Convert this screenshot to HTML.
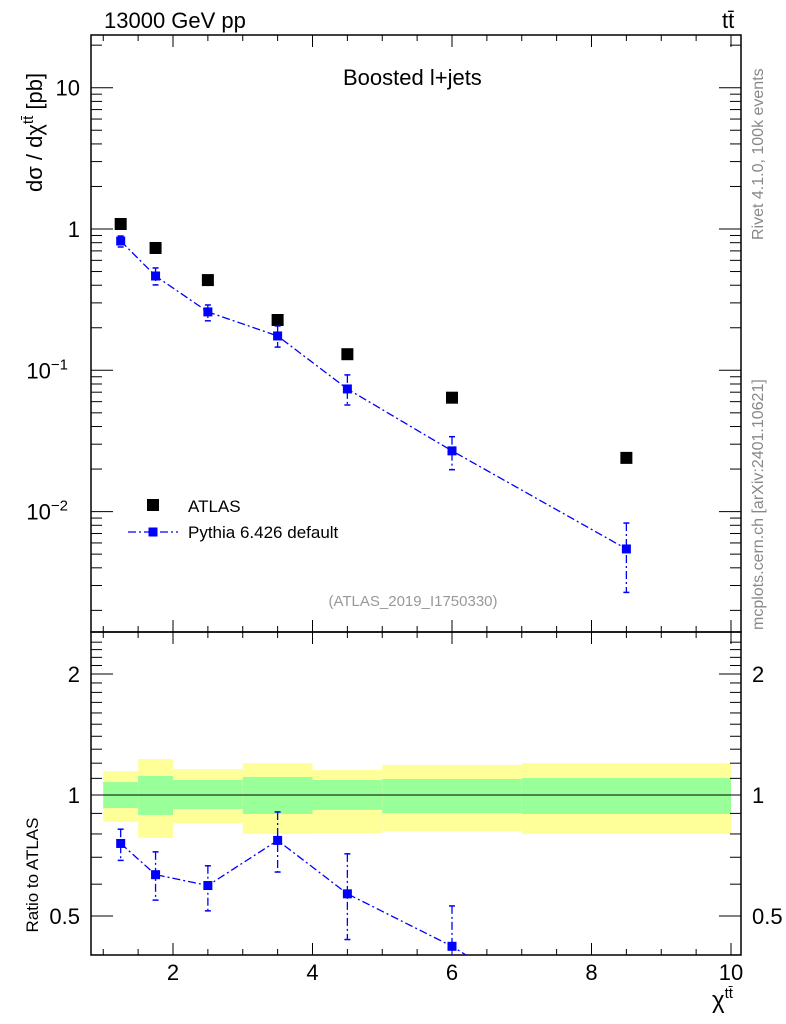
<!DOCTYPE html>
<html><head><meta charset="utf-8"><style>
html,body{margin:0;padding:0;background:#fff;width:786px;height:1024px;overflow:hidden}
svg{display:block;font-family:"Liberation Sans",sans-serif;overflow:hidden}
</style></head><body>
<svg id="c" width="786" height="1024" viewBox="0 0 786 1024" xmlns="http://www.w3.org/2000/svg"></svg>
<script>
const xs=[1.25,1.75,2.5,3.5,4.5,6,8.5];
const atlas=[1.085,0.734,0.435,0.227,0.13,0.064,0.024];
const pythia=[0.822,0.465,0.259,0.175,0.0738,0.0269,0.00544];
const pyUp=[0.892,0.530,0.290,0.206,0.0928,0.0339,0.0083];
const pyDn=[0.746,0.402,0.224,0.146,0.0568,0.0198,0.00268];
const binEdges=[1,1.5,2,3,4,5,7,10];
const yelUp=[1.147,1.229,1.16,1.201,1.154,1.188,1.201];
const yelDn=[0.857,0.782,0.851,0.8,0.804,0.813,0.8];
const grnUp=[1.077,1.115,1.09,1.109,1.09,1.096,1.102];
const grnDn=[0.928,0.892,0.923,0.897,0.918,0.902,0.897];
const xTicks=[2,4,6,8,10];
const svg=document.getElementById('c');const NS='http://www.w3.org/2000/svg';
function el(t,a,p){const e=document.createElementNS(NS,t);for(const k in a)e.setAttribute(k,a[k]);(p||svg).appendChild(e);return e;}
const L=91,R=741,T=35,M=632,B=955;
const X=v=>173+(v-2)*69.75;
const Y=v=>229-Math.log10(v)*141.3;
const YR=v=>795-Math.log2(v)*121;
const cl=y=>Math.max(M,Math.min(B,y));
for(let i=0;i<binEdges.length-1;i++){
 const x1=X(binEdges[i]),x2=X(binEdges[i+1]);
 let r=el('rect',{x:x1,y:YR(yelUp[i]),width:x2-x1,height:YR(yelDn[i])-YR(yelUp[i]),fill:'#ffff99'});
 
 r=el('rect',{x:x1,y:YR(grnUp[i]),width:x2-x1,height:YR(grnDn[i])-YR(grnUp[i]),fill:'#99ff99'});
 
}
el('line',{x1:X(1),x2:X(10),y1:YR(1),y2:YR(1),stroke:'#000','stroke-width':1});
el('rect',{x:L,y:T,width:R-L,height:M-T,fill:'none',stroke:'#000','stroke-width':1.5});
el('rect',{x:L,y:M,width:R-L,height:B-M,fill:'none',stroke:'#000','stroke-width':1.5});
for(let v=1;v<=10.01;v+=0.5){const maj=Math.abs(v-Math.round(v/2)*2)<1e-6;const len=maj?12:6;
 for(const [y0,d] of [[T,1],[M,-1],[M,1],[B,-1]]){el('line',{x1:X(v),x2:X(v),y1:y0,y2:y0+d*len,stroke:'#000'});}}
xTicks.forEach(v=>{const t=el('text',{x:X(v),y:980,'font-size':22,'text-anchor':'middle'});t.textContent=v;
 });
for(let e=-3;e<=1;e++)for(let m=1;m<10;m++){const v=m*Math.pow(10,e);const y=Y(v);if(y<T||y>M)continue;const len=m==1?22:11;
 el('line',{x1:L,x2:L+len,y1:y,y2:y,stroke:'#000'});el('line',{x1:R,x2:R-len,y1:y,y2:y,stroke:'#000'});}
[[10,'10'],[1,'1']].forEach(([v,s])=>{const t=el('text',{x:80,y:Y(v)+8,'font-size':22,'text-anchor':'end'});t.textContent=s;});
[[0.1,'−1'],[0.01,'−2']].forEach(([v,s])=>{const t=el('text',{x:68,y:Y(v)+8,'font-size':22,'text-anchor':'end'});t.textContent='10';
 const ts=el('tspan',{dy:-9,'font-size':15},t);ts.textContent=s;});
for(let v=0.4;v<=2.5;v+=0.1){const y=YR(v);if(y<M||y>B)continue;const maj=[0.5,1,2].some(q=>Math.abs(q-v)<1e-6);const len=maj?22:11;
 el('line',{x1:L,x2:L+len,y1:y,y2:y,stroke:'#000'});el('line',{x1:R,x2:R-len,y1:y,y2:y,stroke:'#000'});}
[[2,'2'],[1,'1'],[0.5,'0.5']].forEach(([v,s])=>{let t=el('text',{x:80,y:YR(v)+8,'font-size':22,'text-anchor':'end'});t.textContent=s;
 t=el('text',{x:752,y:YR(v)+8,'font-size':22});t.textContent=s;});
xs.forEach((x,i)=>{const r=el('rect',{x:X(x)-6,y:Y(atlas[i])-6,width:12,height:12,fill:'#000'});});
function series(yf,vals,up,dn,clipB){
 let pts=xs.map((x,i)=>X(x)+','+yf(vals[i])).join(' ');
 el('polyline',{points:pts,fill:'none',stroke:'#0000ff','stroke-width':1.3,'stroke-dasharray':'8,3,2,3'});
 xs.forEach((x,i)=>{const yc=yf(vals[i]);let y1=yf(up[i]),y2=Math.min(yf(dn[i]),clipB);if(y1>clipB)return;
  el('line',{x1:X(x),x2:X(x),y1:y1,y2:y2,stroke:'#0000ff','stroke-width':1.3,'stroke-dasharray':'8,3,2,3'});
  el('line',{x1:X(x)-3,x2:X(x)+3,y1:y1,y2:y1,stroke:'#0000ff','stroke-width':1.5});
  if(y2<clipB)el('line',{x1:X(x)-3,x2:X(x)+3,y1:y2,y2:y2,stroke:'#0000ff','stroke-width':1.5});
  if(yc<clipB){const r=el('rect',{x:X(x)-4.5,y:yc-4.5,width:9,height:9,fill:'#0000ff'});}
 });
}
series(Y,pythia,pyUp,pyDn,M);
const cp=el('clipPath',{id:'rc'});el('rect',{x:L,y:M,width:R-L,height:B-M},cp);
const g=el('g',{'clip-path':'url(#rc)'});
const ratio=pythia.map((v,i)=>v/atlas[i]),rU=pyUp.map((v,i)=>v/atlas[i]),rD=pyDn.map((v,i)=>v/atlas[i]);
(function(){
 // polyline: find segment into out-of-range region and clip geometrically
 const P=xs.map((x,i)=>[X(x),YR(ratio[i])]);
 const pts=[];
 for(let i=0;i<P.length;i++){
  if(P[i][1]<=B){pts.push(P[i]);}
  else{ if(i>0&&P[i-1][1]<=B){const [xa,ya]=P[i-1],[xb,yb]=P[i];const t=(B-ya)/(yb-ya);pts.push([xa+t*(xb-xa),B]);} break; }
 }
 el('polyline',{points:pts.map(p=>p.join(',')).join(' '),fill:'none',stroke:'#0000ff','stroke-width':1.3,'stroke-dasharray':'8,3,2,3'},g);
 xs.forEach((x,i)=>{const y1r=YR(rU[i]),y2r=YR(rD[i]),yc=YR(ratio[i]);
  if(y1r>B)return;
  const y1=cl(y1r),y2=cl(y2r);
  el('line',{x1:X(x),x2:X(x),y1:y1,y2:y2,stroke:'#0000ff','stroke-width':1.3,'stroke-dasharray':'8,3,2,3'},g);
  el('line',{x1:X(x)-3,x2:X(x)+3,y1:y1,y2:y1,stroke:'#0000ff','stroke-width':1.5},g);
  if(y2r<B)el('line',{x1:X(x)-3,x2:X(x)+3,y1:y2,y2:y2,stroke:'#0000ff','stroke-width':1.5},g);
  if(yc<B){const r=el('rect',{x:X(x)-4.5,y:yc-4.5,width:9,height:Math.min(9,B-(yc-4.5)),fill:'#0000ff'},g);}});})();
function txt(s,a,name){const t=el('text',a);t.textContent=s;return t;}
txt('13000 GeV pp',{x:104,y:28,'font-size':22},'energy-label');
txt('tt̄',{x:722,y:28,'font-size':22},'process-label');
txt('Boosted l+jets',{x:343,y:85,'font-size':22},'plot-title');
txt('(ATLAS_2019_I1750330)',{x:413,y:606,'font-size':15,fill:'#999','text-anchor':'middle'},'analysis-id');
let yt=txt('dσ / dχ',{x:0,y:0,'font-size':22,transform:'translate(42,192) rotate(-90)'},'y-axis-title');
let s=el('tspan',{dy:-9,'font-size':15},yt);s.textContent='tt̄';s=el('tspan',{dy:9},yt);s.textContent=' [pb]';
txt('Ratio to ATLAS',{x:0,y:0,'font-size':17,transform:'translate(38,875) rotate(-90)','text-anchor':'middle'},'ratio-axis-title');
let xt=txt('χ',{x:712,y:1008,'font-size':24},'x-axis-title');s=el('tspan',{dy:-10,'font-size':15},xt);s.textContent='tt̄';
txt('Rivet 4.1.0,  100k events',{x:0,y:0,'font-size':16,fill:'#888',transform:'translate(763,240) rotate(-90)'},'rivet-label');
txt('mcplots.cern.ch [arXiv:2401.10621]',{x:0,y:0,'font-size':16,fill:'#888',transform:'translate(763,630) rotate(-90)'},'mcplots-label');
el('rect',{x:147,y:499,width:12,height:12,fill:'#000'});
txt('ATLAS',{x:188,y:512,'font-size':17},'legend-atlas');
el('line',{x1:128,x2:178,y1:532,y2:532,stroke:'#0000ff','stroke-width':1.3,'stroke-dasharray':'8,3,2,3'});
el('rect',{x:148.5,y:527.5,width:9,height:9,fill:'#0000ff'});
txt('Pythia 6.426 default',{x:188,y:538,'font-size':17},'legend-pythia');
</script></body></html>
